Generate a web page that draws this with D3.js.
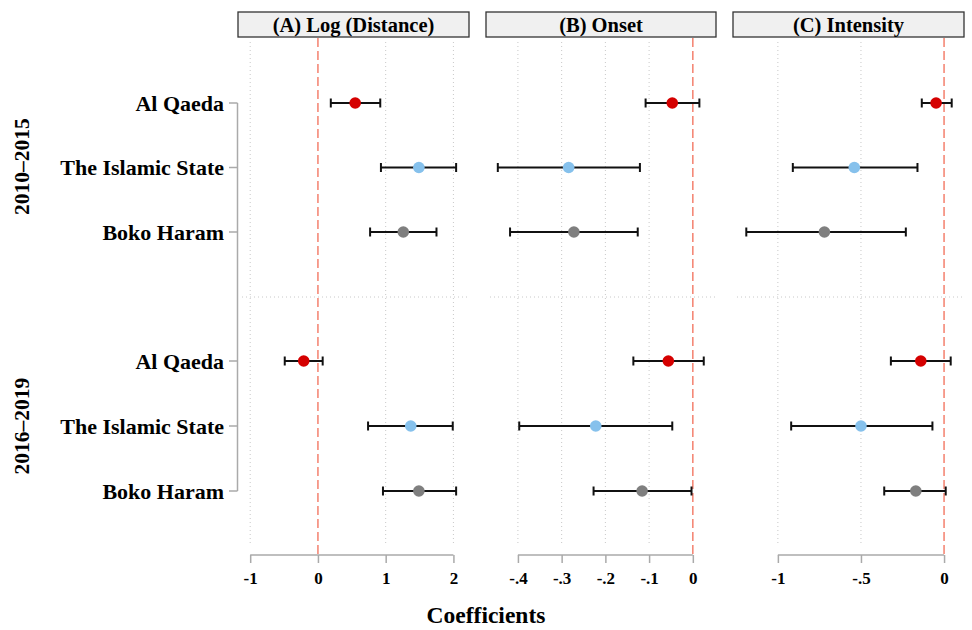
<!DOCTYPE html>
<html><head><meta charset="utf-8">
<script src="https://cdn.jsdelivr.net/npm/d3@7"></script>
<style>body{margin:0;background:#fff}</style>
</head><body>
<svg id="c" width="972" height="630"></svg>
<script>
const groups = ["Al Qaeda", "The Islamic State", "Boko Haram"];
const periods = ["2010–2015", "2016–2019"];
const panelTitles = ["(A) Log (Distance)", "(B) Onset", "(C) Intensity"];
const groupColors = ["#d50000", "#86c1ec", "#7f7f7f"];
const tickVals = [[-1, 0, 1, 2], [-0.4, -0.3, -0.2, -0.1, 0], [-1, -0.5, 0]];
const tickLabels = [["-1", "0", "1", "2"], ["-.4", "-.3", "-.2", "-.1", "0"], ["-1", "-.5", "0"]];
const domains = [[-1.18, 2.23], [-0.473, 0.053], [-1.27, 0.12]];
// estimates [period][group]
const distEst = [[0.55, 1.49, 1.26], [-0.21, 1.37, 1.49]];
const distLo  = [[0.19, 0.93, 0.77], [-0.49, 0.74, 0.96]];
const distHi  = [[0.92, 2.04, 1.75], [0.07, 1.99, 2.04]];
const onsetEst = [[-0.047, -0.284, -0.272], [-0.056, -0.222, -0.116]];
const onsetLo  = [[-0.108, -0.446, -0.418], [-0.136, -0.397, -0.227]];
const onsetHi  = [[0.015, -0.121, -0.126], [0.025, -0.047, -0.003]];
const intEst = [[-0.048, -0.54, -0.72], [-0.14, -0.50, -0.17]];
const intLo  = [[-0.134, -0.91, -1.19], [-0.32, -0.92, -0.36]];
const intHi  = [[0.046, -0.16, -0.23], [0.04, -0.07, 0.01]];
const est = [distEst, onsetEst, intEst], lo = [distLo, onsetLo, intLo], hi = [distHi, onsetHi, intHi];

const svg = d3.select("#c");
const serif = "'Liberation Serif','Times New Roman',serif";
const panelX = [[238, 469], [486, 716], [733, 964]];
const gridTop = 42, gridBot = 545, axisY = 555;
const yPos = (p, g) => p === 0 ? [103, 167.5, 232][g] : [361, 426, 491][g];
const sepY = 297;

panelX.forEach((px, i) => {
  const x = d3.scaleLinear().domain(domains[i]).range(px);
  const g = svg.append("g");
  g.append("rect").attr("x", px[0]).attr("y", 12).attr("width", px[1]-px[0]).attr("height", 25)
    .attr("fill", "#f0f0f0").attr("stroke", "#333").attr("stroke-width", 1.3);
  g.append("text").attr("x", (px[0]+px[1])/2).attr("y", 31.5).attr("text-anchor", "middle")
    .attr("font-family", serif).attr("font-weight", "bold").attr("font-size", 20.5).text(panelTitles[i]);
  tickVals[i].filter(v => v !== 0).forEach(v => {
    g.append("line").attr("x1", x(v)).attr("x2", x(v)).attr("y1", gridTop).attr("y2", gridBot)
      .attr("stroke", "#c8c8c8").attr("stroke-width", 1).attr("stroke-dasharray", "1,3");
  });
  g.append("line").attr("x1", px[0]+4).attr("x2", px[1]-1).attr("y1", sepY).attr("y2", sepY)
    .attr("stroke", "#c8c8c8").attr("stroke-width", 1).attr("stroke-dasharray", "1,3");
  g.append("line").attr("x1", x(0)).attr("x2", x(0)).attr("y1", 38).attr("y2", axisY)
    .attr("stroke", "#f4806e").attr("stroke-width", 1.5).attr("stroke-dasharray", "9,4");
  const ax = d3.axisBottom(x).tickValues(tickVals[i]).tickFormat((d, j) => tickLabels[i][j]).tickSize(8).tickSizeOuter(0);
  const axg = g.append("g").attr("transform", `translate(0,${axisY})`).call(ax);
  axg.select(".domain").attr("stroke", "#aaa").attr("stroke-width", 1.5)
    .attr("d", `M${x(tickVals[i][0])},0H${x(tickVals[i][tickVals[i].length-1])}`);
  axg.selectAll(".tick line").attr("stroke", "#aaa").attr("stroke-width", 1.5);
  axg.selectAll(".tick text").attr("font-family", serif).attr("font-weight", "bold")
    .attr("font-size", 17).attr("fill", "#000").attr("dy", "1.05em");
  periods.forEach((per, p) => {
    groups.forEach((gr, k) => {
      const y = yPos(p, k);
      const l = x(lo[i][p][k]), h = x(hi[i][p][k]);
      g.append("line").attr("x1", l).attr("x2", h).attr("y1", y).attr("y2", y).attr("stroke", "#111").attr("stroke-width", 2);
      [l, h].forEach(xx => g.append("line").attr("x1", xx).attr("x2", xx).attr("y1", y-4.5).attr("y2", y+4.5)
        .attr("stroke", "#111").attr("stroke-width", 2));
      g.append("circle").attr("cx", x(est[i][p][k])).attr("cy", y).attr("r", 5.8).attr("fill", groupColors[k]);
    });
  });
});

svg.append("line").attr("x1", 237.5).attr("x2", 237.5).attr("y1", 103).attr("y2", 491).attr("stroke", "#aaa").attr("stroke-width", 1.5);
periods.forEach((per, p) => {
  groups.forEach((gr, k) => {
    const y = yPos(p, k);
    svg.append("line").attr("x1", 229).attr("x2", 237.5).attr("y1", y).attr("y2", y).attr("stroke", "#aaa").attr("stroke-width", 1.5);
    svg.append("text").attr("x", 224).attr("y", y).attr("dy", "0.35em").attr("text-anchor", "end")
      .attr("font-family", serif).attr("font-weight", "bold").attr("font-size", 22).text(gr);
  });
  const cy = p === 0 ? 166.5 : 426;
  svg.append("text").attr("transform", `translate(21,${cy}) rotate(-90)`).attr("text-anchor", "middle")
    .attr("dy", "0.35em").attr("font-family", serif).attr("font-weight", "bold").attr("font-size", 21.5).text(per);
});

svg.append("text").attr("x", 486).attr("y", 623).attr("text-anchor", "middle")
  .attr("font-family", serif).attr("font-weight", "bold").attr("font-size", 23.5).text("Coefficients");
</script>
</body></html>
